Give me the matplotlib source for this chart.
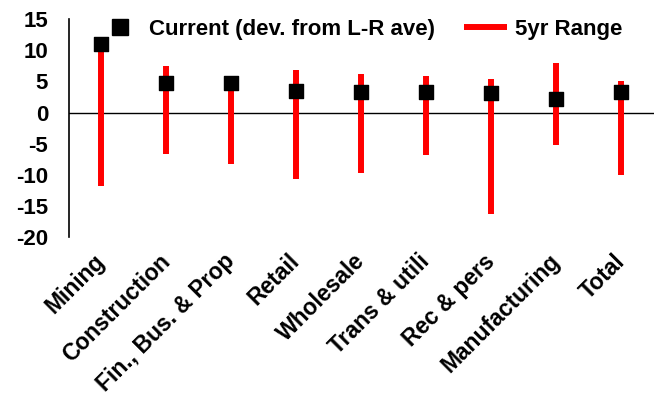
import matplotlib
matplotlib.use("Agg")
import matplotlib.pyplot as plt
from matplotlib.lines import Line2D

plt.rcParams['font.family'] = ['Liberation Sans', 'DejaVu Sans']
plt.rcParams['font.weight'] = 'bold'
plt.rcParams['axes.unicode_minus'] = False

# Industry categories and deviation from long-run average
sectors = ['Mining', 'Construction', 'Fin., Bus. & Prop', 'Retail', 'Wholesale',
           'Trans & utili', 'Rec & pers', 'Manufacturing', 'Total']
current = [11.0, 4.8, 4.8, 3.5, 3.3, 3.3, 3.2, 2.1, 3.3]
range_high = [11.0, 7.5, 4.8, 6.9, 6.2, 5.9, 5.4, 7.9, 5.0]
range_low = [-11.8, -6.7, -8.3, -10.7, -9.7, -6.9, -16.3, -5.2, -10.0]

fig, ax = plt.subplots(figsize=(6.57, 3.99), dpi=100)
fig.subplots_adjust(left=0.105, right=0.995, top=0.952, bottom=0.406)

x = range(len(sectors))
ax.vlines(x, range_low, range_high, color='red', linewidth=4.3, zorder=2)
ax.scatter(x, current, marker='s', s=112, color='black', zorder=3)
ax.axhline(0, color='black', linewidth=1, zorder=1)

ax.set_xlim(-0.5, len(sectors) - 0.5)
ax.set_ylim(-20, 15)
ax.set_yticks(range(-20, 20, 5))
ax.tick_params(axis='y', length=0, labelsize=16, pad=15)
ax.tick_params(axis='x', length=0, pad=15)
ax.set_xticks(list(x))
ax.set_xticklabels(sectors, rotation=45, ha='right', va='center',
                   rotation_mode='anchor', fontsize=16.5, fontweight='bold')
for lab in ax.get_yticklabels():
    lab.set_fontweight('bold')

for side in ['top', 'right', 'bottom']:
    ax.spines[side].set_visible(False)
ax.spines['left'].set_linewidth(1.2)

handles = [
    Line2D([], [], marker='s', color='black', linestyle='none', markersize=11),
    Line2D([], [], color='red', linewidth=4.3, solid_capstyle='butt'),
]
fig.legend(handles, ['Current (dev. from L-R ave)', '5yr Range'],
           loc='center left', bbox_to_anchor=(98 / 657, 1 - 29 / 399),
           ncol=2, frameon=False, borderpad=0, borderaxespad=0,
           handlelength=1.95, columnspacing=1.3, handletextpad=0.35,
           prop={'weight': 'bold', 'size': 16})

fig.savefig('out.png', dpi=100)
